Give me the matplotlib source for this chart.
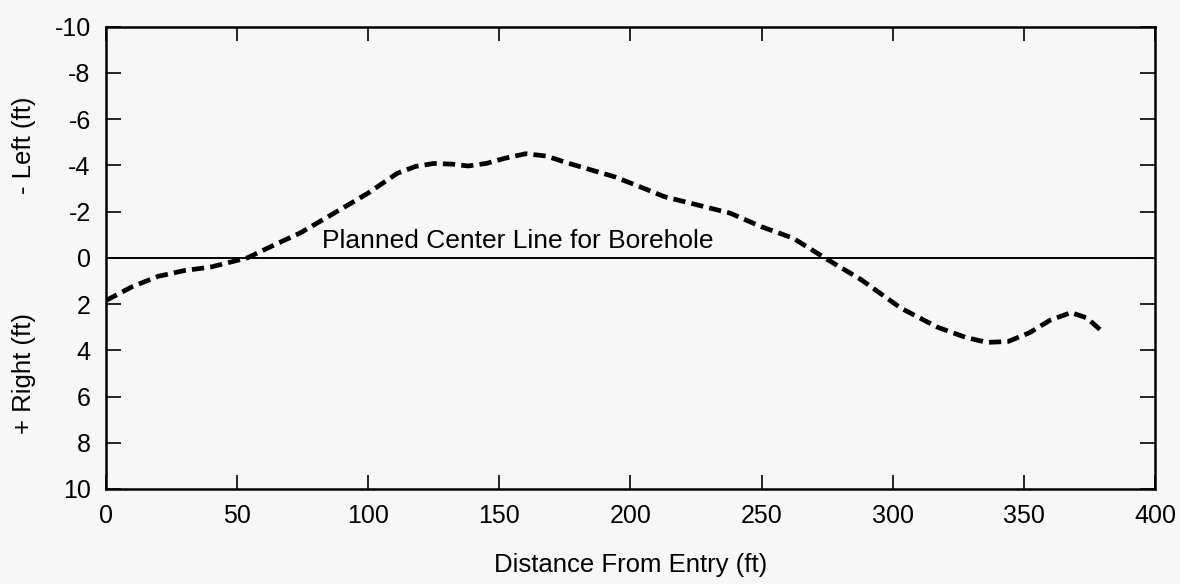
import matplotlib.pyplot as plt

# distance from entry (ft) and lateral offset (ft, negative = left)
distance = [0, 10, 20, 30, 40, 47, 54, 65, 74, 87, 100, 111, 118, 125, 132, 138,
            145, 152, 160, 168, 176, 185, 194, 203, 213, 225, 238, 250, 262, 274,
            288, 303, 317, 328, 336, 344, 352, 360, 368, 374, 379]
offset = [1.85, 1.25, 0.8, 0.55, 0.4, 0.2, 0.0, -0.6, -1.07, -1.93, -2.8, -3.65,
          -3.95, -4.08, -4.05, -3.97, -4.08, -4.3, -4.5, -4.4, -4.1, -3.8, -3.5,
          -3.1, -2.64, -2.3, -1.93, -1.34, -0.85, 0.0, 0.95, 2.17, 3.0, 3.45,
          3.66, 3.62, 3.25, 2.7, 2.37, 2.6, 3.1]

x_ticks = [0, 50, 100, 150, 200, 250, 300, 350, 400]
y_ticks = [-10, -8, -6, -4, -2, 0, 2, 4, 6, 8, 10]

plt.rcParams['font.family'] = ['Liberation Sans', 'DejaVu Sans']
plt.rcParams['font.size'] = 18.5
plt.rcParams['axes.unicode_minus'] = False

BG = '#f7f7f7'

fig = plt.figure(figsize=(11.8, 5.84), dpi=100, facecolor=BG)
ax = fig.add_axes([0.0898, 0.1627, 0.8890, 0.7918])
ax.set_facecolor(BG)

# planned center line
ax.plot([0, 400], [0, 0], color='black', linewidth=1.4)
ax.text(82.5, -0.22, 'Planned Center Line for Borehole', fontsize=19,
        ha='left', va='bottom')

# actual borehole path
ax.plot(distance, offset, color='black', linewidth=3.4,
        linestyle=(0, (2.6, 1.3)), dash_capstyle='butt')

ax.set_xlim(0, 400)
ax.set_ylim(10, -10)
ax.set_xticks(x_ticks)
ax.set_yticks(y_ticks)

ax.tick_params(direction='in', top=True, right=True, width=1.2, labelsize=18)
ax.tick_params(axis='y', length=11, pad=11)
ax.tick_params(axis='x', length=10, pad=11)
for s in ax.spines.values():
    s.set_linewidth(1.8)

ax.set_xlabel('Distance From Entry (ft)', labelpad=18)

fig.text(0.020, 0.751, '- Left (ft)', rotation=90, ha='center', va='center')
fig.text(0.020, 0.361, '+ Right (ft)', rotation=90, ha='center', va='center')

fig.savefig('out.png', dpi=100, facecolor=BG)
